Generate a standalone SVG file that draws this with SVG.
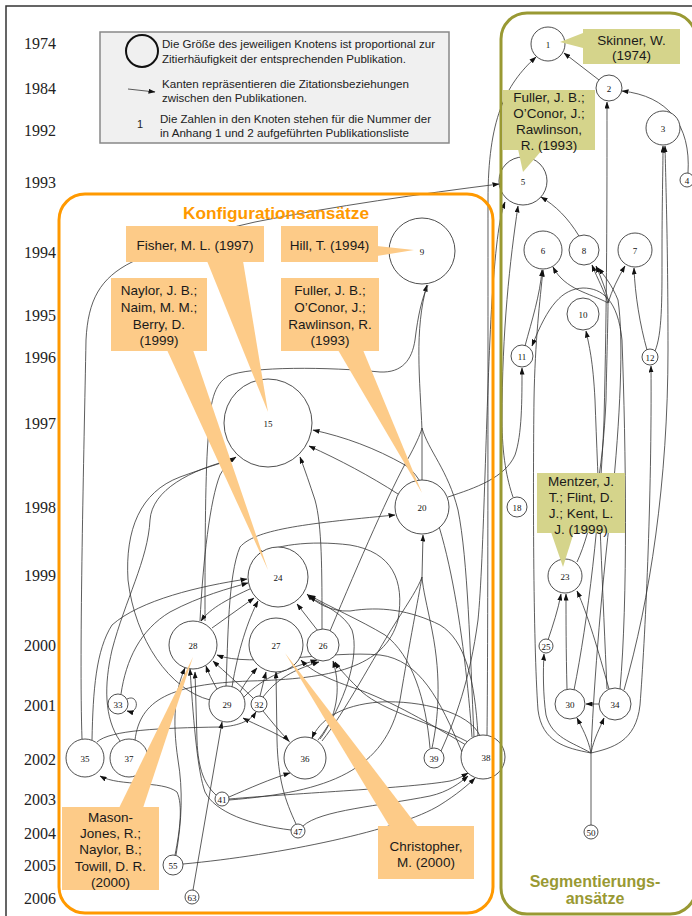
<svg xmlns="http://www.w3.org/2000/svg" width="692" height="916" viewBox="0 0 692 916">
<style>
.yr{font-family:"Liberation Serif",serif;font-size:16px;fill:#222}
.lg{font-family:"Liberation Sans",Arial,sans-serif;font-size:11px;fill:#222}
.co{font-family:"Liberation Sans",Arial,sans-serif;font-size:13.5px;fill:#1a1a1a;text-anchor:middle}
.e{fill:none;stroke:#333;stroke-width:0.8;marker-end:url(#a)}
.t{fill:none;stroke:#333;stroke-width:0.8}
.n circle{fill:#fff;stroke:#222;stroke-width:0.8}
.n text{font-family:"Liberation Serif",serif;font-size:9px;fill:#111;text-anchor:middle}
.oc{fill:#FDCB88}
.gc{fill:#D5D48B}
</style>
<defs>
<marker id="a" markerWidth="7" markerHeight="5" refX="6.5" refY="2.5" orient="auto" markerUnits="userSpaceOnUse"><path d="M0,0 L7,2.5 L0,5 z" fill="#111"/></marker>
</defs>
<rect width="692" height="916" fill="#fff"/>
<path d="M6,916 L6,6 L692,6" fill="none" stroke="#333" stroke-width="1.5"/>

<g id="years">
<text class="yr" x="24" y="49">1974</text>
<text class="yr" x="24" y="94">1984</text>
<text class="yr" x="24" y="136">1992</text>
<text class="yr" x="24" y="188">1993</text>
<text class="yr" x="24" y="258">1994</text>
<text class="yr" x="24" y="321">1995</text>
<text class="yr" x="24" y="363">1996</text>
<text class="yr" x="24" y="429">1997</text>
<text class="yr" x="24" y="513">1998</text>
<text class="yr" x="24" y="581">1999</text>
<text class="yr" x="24" y="651">2000</text>
<text class="yr" x="24" y="711">2001</text>
<text class="yr" x="24" y="765">2002</text>
<text class="yr" x="24" y="805">2003</text>
<text class="yr" x="24" y="839">2004</text>
<text class="yr" x="24" y="871">2005</text>
<text class="yr" x="24" y="904">2006</text>
</g>

<g id="legend">
<rect x="100" y="32" width="349" height="111" fill="#F0F0F0" stroke="#888" stroke-width="1.5"/>
<circle cx="142" cy="51" r="16" fill="none" stroke="#111" stroke-width="2"/>
<text class="lg" x="162" y="48" textLength="273" lengthAdjust="spacingAndGlyphs">Die Größe des jeweiligen Knotens ist proportional zur</text>
<text class="lg" x="162" y="63" textLength="244" lengthAdjust="spacingAndGlyphs">Zitierhäufigkeit der entsprechenden Publikation.</text>
<path d="M128,89 L155,92" class="e"/>
<text class="lg" x="162" y="88" textLength="247" lengthAdjust="spacingAndGlyphs">Kanten repräsentieren die Zitationsbeziehungen</text>
<text class="lg" x="162" y="102" textLength="145" lengthAdjust="spacingAndGlyphs">zwischen den Publikationen.</text>
<text class="lg" x="140" y="128" text-anchor="middle" font-size="12">1</text>
<text class="lg" x="160" y="123" textLength="271" lengthAdjust="spacingAndGlyphs">Die Zahlen in den Knoten stehen für die Nummer der</text>
<text class="lg" x="160" y="137" textLength="249" lengthAdjust="spacingAndGlyphs">in Anhang 1 und 2 aufgeführten Publikationsliste</text>
</g>

<g id="edges">
<!-- right cluster -->
<path class="e" d="M599,80 L564,53"/>
<path class="e" d="M487,735 C488,650 488,400 488,200 C488,120 505,85 536,57"/>
<path class="e" d="M688,173 C691,125 668,96 622,91"/>
<path class="e" d="M624,690 C650,600 668,480 668,350 C668,250 666,190 665,146"/>
<path class="e" d="M574,690 C588,620 600,520 604,420 C607,300 607,200 607,102"/>
<path class="e" d="M579,236 C568,218 556,206 541,197"/>
<path class="e" d="M513,497 C507,480 502,455 502,420 C502,330 510,260 518,206"/>
<path class="e" d="M525,346 C532,320 540,295 542,270"/>
<path class="t" d="M577,562 C592,530 603,470 606,400 C607,350 608,320 608,303"/>
<path class="e" d="M608,303 C590,293 565,290 553,267"/>
<path class="e" d="M608,303 C604,290 598,280 592,265"/>
<path class="e" d="M609,303 C606,290 602,280 596,266"/>
<path class="e" d="M608,303 C612,290 618,278 625,266"/>
<path class="e" d="M647,350 C640,325 635,295 634,268"/>
<path class="e" d="M655,351 C662,335 662,300 662,260 C662,200 663,170 663,146"/>
<path class="e" d="M620,689 C628,600 626,450 622,340 C618,300 602,288 583,288 C562,289 548,305 532,346"/>
<path class="e" d="M448,497 C475,488 505,478 515,455 C522,435 522,400 522,368"/>
<path class="e" d="M607,689 C603,600 598,480 595,400 C593,360 589,345 586,331"/>
<path class="t" d="M591,825 L591,753"/>
<path class="e" d="M591,753 C588,738 582,728 577,718"/>
<path class="e" d="M591,753 C594,738 600,728 604,718"/>
<path class="e" d="M591,753 C572,742 552,738 546,715 C543,695 543,670 544,654"/>
<path class="e" d="M591,753 C565,748 542,742 538,710 C533,640 533,480 534,400 C535,340 540,300 543,270"/>
<path class="e" d="M591,753 C612,748 636,742 640,705 C645,640 652,500 651,366"/>
<path class="e" d="M591,753 C593,700 600,600 612,500 C620,420 624,340 618,300 C612,285 604,275 598,268"/>
<path class="e" d="M567,689 C566,650 566,620 566,594"/>
<path class="e" d="M548,640 C553,625 558,610 561,594"/>
<path class="e" d="M609,689 C598,650 588,615 577,591"/>
<path class="e" d="M599,704 L586,704"/>
<!-- left cluster -->
<path class="e" d="M82,739 C79,650 84,450 86,340 C88,300 100,278 132,262 C175,244 210,232 255,222 C335,206 420,194 499,184"/>
<path class="e" d="M398,494 C370,476 340,460 309,446"/>
<path class="e" d="M472,737 C465,640 445,490 405,465 C375,448 345,437 313,430"/>
<path class="e" d="M322,629 C322,570 322,525 315,500 C310,485 305,470 300,457"/>
<path class="e" d="M200,621 C203,560 210,500 220,475 C225,466 230,461 236,457"/>
<path class="e" d="M210,700 C170,690 135,640 128,580 C125,530 140,492 180,477 C205,468 220,463 232,460"/>
<path class="e" d="M422,480 L422,430 C420,380 414,330 427,285"/>
<path class="t" d="M205,621 C205,560 205,480 208,440 C210,400 214,385 228,376 C250,366 330,367 380,372 C402,373 412,360 415,340 C418,315 422,298 428,285"/>
<path class="e" d="M212,628 L254,598"/>
<path class="e" d="M232,687 C238,650 248,620 258,601"/>
<path class="e" d="M318,631 L297,604"/>
<path class="e" d="M478,736 C475,680 465,640 440,625 C410,610 380,606 350,611 C330,612 315,602 307,594"/>
<path class="e" d="M318,740 C345,705 360,655 352,630 C345,615 325,605 309,597"/>
<path class="e" d="M430,748 C426,700 412,655 385,635 C360,620 328,606 309,595"/>
<path class="e" d="M92,740 C93,690 96,650 112,625 C140,600 200,586 247,579"/>
<path class="t" d="M330,631 C360,560 390,490 410,455 C418,440 421,432 422,428"/>
<path class="e" d="M217,689 C212,680 208,672 206,666"/>
<path class="e" d="M253,698 C240,685 225,672 213,661"/>
<path class="e" d="M216,795 C205,785 198,770 197,740 L195,672"/>
<path class="e" d="M193,890 L222,722"/>
<path class="e" d="M240,692 C245,683 250,676 257,668"/>
<path class="e" d="M260,696 L266,672"/>
<path class="e" d="M243,698 C265,675 290,668 317,660"/>
<path class="e" d="M263,697 C280,675 300,668 319,662"/>
<path class="e" d="M296,824 C285,800 278,780 277,740 L276,672"/>
<path class="e" d="M320,739 C336,718 342,690 333,661"/>
<path class="e" d="M290,742 C275,732 256,725 243,718"/>
<path class="e" d="M263,711 C272,722 280,732 289,741"/>
<path class="e" d="M229,797 C250,788 270,779 290,773"/>
<path class="e" d="M229,799 C300,793 410,788 450,781 C458,779 463,776 468,773"/>
<path class="e" d="M229,800 C330,792 385,770 400,700 C410,640 418,600 422,577 L423,535"/>
<path class="e" d="M175,855 C180,830 183,805 177,792 C162,780 120,787 100,776"/>
<path class="e" d="M183,864 C280,855 400,830 440,805 C456,795 468,785 475,778"/>
<path class="e" d="M303,826 C320,810 380,806 430,796 C448,792 460,783 468,776"/>
<path class="e" d="M291,830 C250,825 215,812 205,792 C198,772 194,730 190,669"/>
<path class="e" d="M480,736 C470,712 420,700 380,702 C340,705 320,720 312,738"/>
<path class="t" d="M432,748 C438,720 442,680 432,630 C427,605 423,590 422,577"/>
<path class="e" d="M97,742 C110,730 160,728 220,727 C240,726 251,720 256,712"/>
<path class="e" d="M120,741 C104,718 104,685 112,650 C125,600 148,560 150,520 C152,490 190,470 234,459"/>
<path class="e" d="M121,694 C126,660 140,630 170,612 C200,596 230,588 248,583"/>
<path class="e" d="M127,699 C139,693 140,715 127,711"/>
<path class="t" d="M322,741 C345,712 372,660 396,622 C410,600 418,588 422,577"/>
<path class="e" d="M468,742 C430,722 385,712 362,692 C350,680 340,670 335,662"/>
<path class="e" d="M466,745 C440,730 400,705 360,690 C330,680 312,672 301,660"/>
<path class="t" d="M474,737 C470,650 468,560 458,510 C448,470 428,450 422,428"/>
<path class="e" d="M252,588 C230,598 210,608 201,621"/>
<path class="e" d="M226,686 C228,640 228,575 240,547 C255,530 300,524 395,515"/>
<path class="e" d="M135,740 C140,700 170,684 250,681 C330,679 385,668 398,620 C405,580 392,552 350,545 C310,540 272,545 258,556"/>
<path class="e" d="M441,751 C455,720 470,680 478,620 C484,560 486,400 492,300 C496,240 500,215 505,202"/>
<path class="e" d="M176,855 C182,820 183,790 178,760 C172,720 175,690 185,668"/>
<path class="e" d="M462,752 C440,700 420,660 380,655 C330,650 250,668 217,655"/>
</g>

<g id="nodes" class="n">
<g id="n1"><circle cx="548" cy="44" r="17"/><text x="548" y="47.5">1</text></g>
<g id="n2"><circle cx="609" cy="88" r="13"/><text x="609" y="91.5">2</text></g>
<g id="n3"><circle cx="663" cy="128" r="17"/><text x="663" y="131.5">3</text></g>
<g id="n4"><circle cx="687" cy="180" r="7"/><text x="687" y="183.5">4</text></g>
<g id="n5"><circle cx="523" cy="181" r="24"/><text x="523" y="184.5">5</text></g>
<g id="n6"><circle cx="543" cy="250" r="19"/><text x="543" y="253.5">6</text></g>
<g id="n8"><circle cx="584" cy="250" r="15"/><text x="584" y="253.5">8</text></g>
<g id="n7"><circle cx="635" cy="250" r="17"/><text x="635" y="253.5">7</text></g>
<g id="n10"><circle cx="583" cy="314" r="16"/><text x="583" y="317.5">10</text></g>
<g id="n11"><circle cx="522" cy="356" r="11"/><text x="522" y="359.5">11</text></g>
<g id="n12"><circle cx="650" cy="357" r="8"/><text x="650" y="360.5">12</text></g>
<g id="n18"><circle cx="517" cy="507" r="10"/><text x="517" y="510.5">18</text></g>
<g id="n23"><circle cx="565" cy="576" r="17"/><text x="565" y="579.5">23</text></g>
<g id="n25"><circle cx="546" cy="646" r="7"/><text x="546" y="649.5">25</text></g>
<g id="n30"><circle cx="570" cy="704" r="15"/><text x="570" y="707.5">30</text></g>
<g id="n34"><circle cx="615" cy="704" r="16"/><text x="615" y="707.5">34</text></g>
<g id="n50"><circle cx="591" cy="832" r="7"/><text x="591" y="835.5">50</text></g>
<g id="n38"><circle cx="483" cy="757" r="22"/><text x="486" y="760.5">38</text></g>
<g id="n9"><circle cx="422" cy="251" r="33"/><text x="422" y="254.5">9</text></g>
<g id="n15"><circle cx="268" cy="423" r="44"/><text x="268" y="426.5">15</text></g>
<g id="n20"><circle cx="422" cy="507" r="27"/><text x="422" y="510.5">20</text></g>
<g id="n24"><circle cx="278" cy="577" r="30"/><text x="278" y="580.5">24</text></g>
<g id="n28"><circle cx="193" cy="645" r="24"/><text x="193" y="648.5">28</text></g>
<g id="n27"><circle cx="276" cy="645" r="27"/><text x="276" y="648.5">27</text></g>
<g id="n26"><circle cx="323" cy="645" r="16"/><text x="323" y="648.5">26</text></g>
<g id="n29"><circle cx="227" cy="704" r="18"/><text x="227" y="707.5">29</text></g>
<g id="n32"><circle cx="259" cy="704" r="8"/><text x="259" y="707.5">32</text></g>
<g id="n33"><circle cx="118" cy="704" r="10"/><text x="118" y="707.5">33</text></g>
<g id="n35"><circle cx="85" cy="758" r="19"/><text x="85" y="761.5">35</text></g>
<g id="n37"><circle cx="129" cy="758" r="19"/><text x="129" y="761.5">37</text></g>
<g id="n36"><circle cx="305" cy="758" r="21"/><text x="305" y="761.5">36</text></g>
<g id="n39"><circle cx="434" cy="758" r="10"/><text x="434" y="761.5">39</text></g>
<g id="n41"><circle cx="222" cy="799" r="7"/><text x="222" y="802.5">41</text></g>
<g id="n47"><circle cx="298" cy="831" r="7"/><text x="298" y="834.5">47</text></g>
<g id="n55"><circle cx="173" cy="865" r="10"/><text x="173" y="868.5">55</text></g>
<g id="n63"><circle cx="192" cy="897" r="7"/><text x="192" y="900.5">63</text></g>
</g>

<g id="groups">
<rect x="59" y="194" width="434" height="719" rx="26" fill="none" stroke="#FF9900" stroke-width="3"/>
<rect x="501" y="13" width="195" height="901" rx="26" fill="none" stroke="#999933" stroke-width="3"/>
<text x="276" y="219" text-anchor="middle" font-family="Liberation Sans, Arial, sans-serif" font-weight="bold" font-size="16" fill="#FF9900" textLength="186" lengthAdjust="spacingAndGlyphs">Konfigurationsansätze</text>
<text x="595" y="887" text-anchor="middle" font-family="Liberation Sans, Arial, sans-serif" font-weight="bold" font-size="16" fill="#999933">Segmentierungs-</text>
<text x="595" y="904" text-anchor="middle" font-family="Liberation Sans, Arial, sans-serif" font-weight="bold" font-size="16" fill="#999933">ansätze</text>
</g>

<g id="callouts">
<g id="c-skinner"><path class="gc" d="M583,33 L583,48 L560,42 z"/><rect class="gc" x="583" y="29" width="97" height="35"/><text class="co" x="631.5" y="45">Skinner, W.</text><text class="co" x="631.5" y="60">(1974)</text></g>
<g id="c-fuller5"><path class="gc" d="M518,149 L543,149 L523,172 z"/><rect class="gc" x="503" y="90" width="92" height="60"/><text class="co" x="549" y="102">Fuller, J. B.;</text><text class="co" x="549" y="118">O’Conor, J.;</text><text class="co" x="549" y="134">Rawlinson,</text><text class="co" x="549" y="150">R. (1993)</text></g>
<g id="c-mentzer"><path class="gc" d="M551,532 L574,532 L563,567 z"/><rect class="gc" x="537" y="473" width="88" height="60"/><text class="co" x="581" y="486">Mentzer, J.</text><text class="co" x="581" y="502">T.; Flint, D.</text><text class="co" x="581" y="518">J.; Kent, L.</text><text class="co" x="581" y="534">J. (1999)</text></g>
<g id="c-fisher"><path class="oc" d="M207,261 L243,261 L268,412 z"/><rect class="oc" x="126" y="226" width="138" height="36"/><text class="co" x="195" y="250">Fisher, M. L. (1997)</text></g>
<g id="c-hill"><path class="oc" d="M377,246 L377,256 L414,250 z"/><rect class="oc" x="281" y="226" width="97" height="36"/><text class="co" x="329.5" y="250">Hill, T. (1994)</text></g>
<g id="c-naylor"><path class="oc" d="M167,350 L193,350 L268,570 z"/><rect class="oc" x="111" y="278" width="96" height="73"/><text class="co" x="159" y="295">Naylor, J. B.;</text><text class="co" x="159" y="312">Naim, M. M.;</text><text class="co" x="159" y="329">Berry, D.</text><text class="co" x="159" y="345">(1999)</text></g>
<g id="c-fuller20"><path class="oc" d="M338,350 L363,350 L422,493 z"/><rect class="oc" x="281" y="278" width="98" height="73"/><text class="co" x="330" y="295">Fuller, J. B.;</text><text class="co" x="330" y="312">O’Conor, J.;</text><text class="co" x="330" y="329">Rawlinson, R.</text><text class="co" x="330" y="345">(1993)</text></g>
<g id="c-mason"><path class="oc" d="M119,808 L143,808 L193,657 z"/><rect class="oc" x="62" y="807" width="97" height="83"/><text class="co" x="110.5" y="822">Mason-</text><text class="co" x="110.5" y="838">Jones, R.;</text><text class="co" x="110.5" y="854">Naylor, B.;</text><text class="co" x="110.5" y="871">Towill, D. R.</text><text class="co" x="110.5" y="887">(2000)</text></g>
<g id="c-christopher"><path class="oc" d="M390,827 L418,827 L285,653 z"/><rect class="oc" x="378" y="826" width="96" height="53"/><text class="co" x="426" y="851">Christopher,</text><text class="co" x="426" y="867">M. (2000)</text></g>
</g>
</svg>
